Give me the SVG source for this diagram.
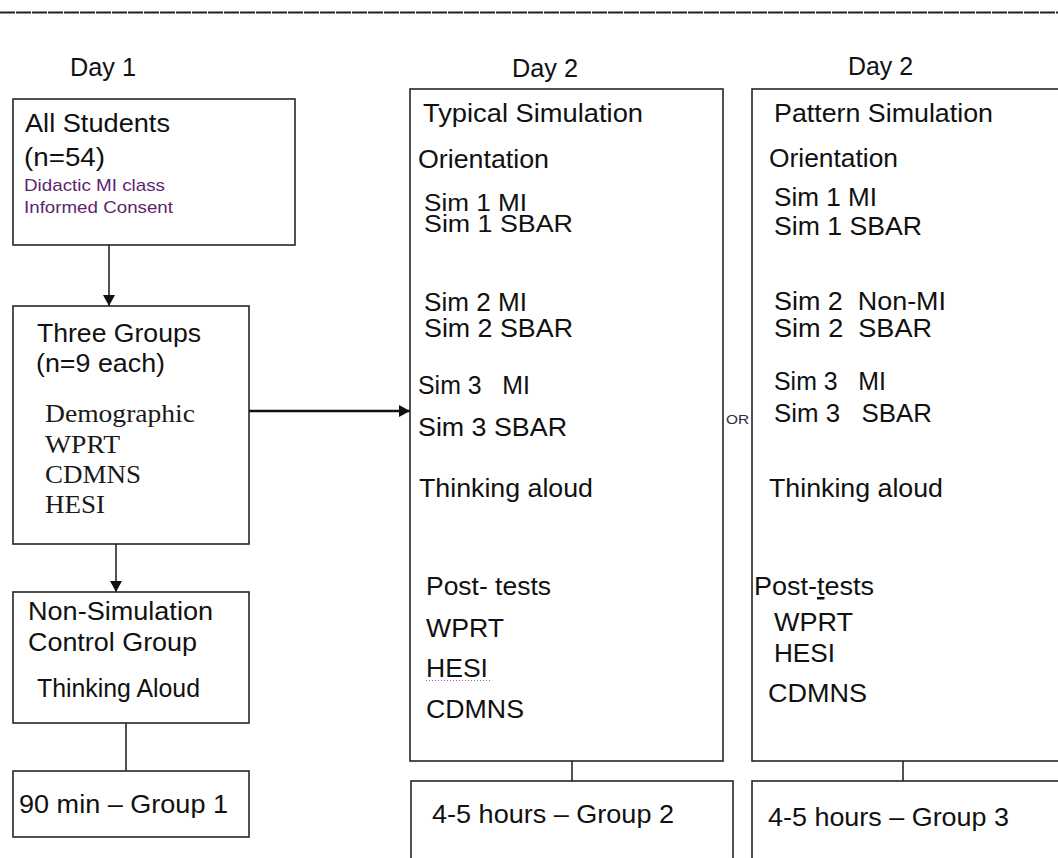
<svg xmlns="http://www.w3.org/2000/svg" width="1058" height="858" viewBox="0 0 1058 858">
  <style>
    .box { fill: #ffffff; stroke: #262626; stroke-width: 1.6; }
    .t { font-family: "Liberation Sans", Arial, sans-serif; font-size: 25px; fill: #111111; }
    .t2 { font-family: "Liberation Sans", Arial, sans-serif; font-size: 23px; fill: #111111; }
    .s { font-family: "Liberation Serif", "Times New Roman", serif; font-size: 25px; fill: #1a1a1a; }
    .p { font-family: "Liberation Sans", Arial, sans-serif; font-size: 17px; fill: #5e2470; }
    .or { font-family: "Liberation Sans", Arial, sans-serif; font-size: 13px; fill: #2b2b3a; }
    .ln { stroke: #262626; stroke-width: 1.6; fill: none; }
    .thick { stroke: #111111; stroke-width: 2.6; fill: none; }
  </style>
  <defs>
    <marker id="ah" markerUnits="userSpaceOnUse" markerWidth="12" markerHeight="12" refX="11" refY="6" orient="auto">
      <path d="M0,0 L11,6 L0,12 z" fill="#111111"/>
    </marker>
  </defs>
  <rect width="1058" height="858" fill="#ffffff"/>

  <!-- top rule -->
  <line x1="0" y1="12.5" x2="1058" y2="12.5" stroke="#222222" stroke-width="2" stroke-dasharray="15 1"/>

  <!-- column headers -->
  <text class="t" x="70" y="76" textLength="66" lengthAdjust="spacingAndGlyphs">Day 1</text>
  <text class="t" x="512" y="77" textLength="66" lengthAdjust="spacingAndGlyphs">Day 2</text>
  <text class="t" x="848" y="75" textLength="65" lengthAdjust="spacingAndGlyphs">Day 2</text>

  <g id="connectors">
    <line class="ln" x1="109" y1="245" x2="109" y2="306" marker-end="url(#ah)"/>
    <line class="thick" x1="249" y1="411" x2="410" y2="411" marker-end="url(#ah)"/>
    <line class="ln" x1="116" y1="538" x2="116" y2="592" marker-end="url(#ah)"/>
    <line class="ln" x1="126" y1="723" x2="126" y2="771"/>
    <line class="ln" x1="572" y1="761" x2="572" y2="781"/>
    <line class="ln" x1="903" y1="761" x2="903" y2="781"/>
  </g>

  <g id="all-students">
    <rect class="box" x="13" y="99" width="282" height="146"/>
    <text class="t" x="25" y="132" textLength="145" lengthAdjust="spacingAndGlyphs">All Students</text>
    <text class="t" x="24" y="166" textLength="81" lengthAdjust="spacingAndGlyphs">(n=54)</text>
    <text class="p" x="24" y="191" textLength="141" lengthAdjust="spacingAndGlyphs">Didactic MI class</text>
    <text class="p" x="24" y="213" textLength="149" lengthAdjust="spacingAndGlyphs">Informed Consent</text>
  </g>

  <g id="three-groups">
    <rect class="box" x="13" y="306" width="236" height="238"/>
    <text class="t" x="37" y="342" textLength="164" lengthAdjust="spacingAndGlyphs">Three Groups</text>
    <text class="t" x="36" y="372" textLength="129" lengthAdjust="spacingAndGlyphs">(n=9 each)</text>
    <text class="s" x="45" y="422" textLength="150" lengthAdjust="spacingAndGlyphs">Demographic</text>
    <text class="s" x="45" y="453" textLength="75" lengthAdjust="spacingAndGlyphs">WPRT</text>
    <text class="s" x="45" y="483" textLength="96" lengthAdjust="spacingAndGlyphs">CDMNS</text>
    <text class="s" x="45" y="513" textLength="60" lengthAdjust="spacingAndGlyphs">HESI</text>
  </g>

  <g id="control-group">
    <rect class="box" x="13" y="592" width="236" height="131"/>
    <text class="t" x="28" y="620" textLength="185" lengthAdjust="spacingAndGlyphs">Non-Simulation</text>
    <text class="t" x="28" y="651" textLength="169" lengthAdjust="spacingAndGlyphs">Control Group</text>
    <text class="t" x="37" y="697" textLength="163" lengthAdjust="spacingAndGlyphs">Thinking Aloud</text>
  </g>

  <g id="group1">
    <rect class="box" x="13" y="771" width="236" height="66"/>
    <text class="t" x="19" y="813" textLength="209" lengthAdjust="spacingAndGlyphs">90 min – Group 1</text>
  </g>

  <g id="typical-simulation">
    <rect class="box" x="410" y="89" width="313" height="672"/>
    <text class="t" x="423" y="122" textLength="220" lengthAdjust="spacingAndGlyphs">Typical Simulation</text>
    <text class="t" x="418" y="168" textLength="131" lengthAdjust="spacingAndGlyphs">Orientation</text>
    <text class="t2" x="424" y="211" textLength="103" lengthAdjust="spacingAndGlyphs">Sim 1 MI</text>
    <text class="t2" x="424" y="232" textLength="149" lengthAdjust="spacingAndGlyphs">Sim 1 SBAR</text>
    <text class="t" x="424" y="311" textLength="103" lengthAdjust="spacingAndGlyphs">Sim 2 MI</text>
    <text class="t" x="424" y="337" textLength="149" lengthAdjust="spacingAndGlyphs">Sim 2 SBAR</text>
    <text class="t" x="418" y="394" textLength="112" lengthAdjust="spacingAndGlyphs" xml:space="preserve">Sim 3   MI</text>
    <text class="t" x="418" y="436" textLength="149" lengthAdjust="spacingAndGlyphs">Sim 3 SBAR</text>
    <text class="t" x="419" y="497" textLength="174" lengthAdjust="spacingAndGlyphs">Thinking aloud</text>
    <text class="t" x="426" y="595" textLength="125" lengthAdjust="spacingAndGlyphs">Post- tests</text>
    <text class="t" x="426" y="637" textLength="78" lengthAdjust="spacingAndGlyphs">WPRT</text>
    <text class="t" x="426" y="677" textLength="62" lengthAdjust="spacingAndGlyphs">HESI</text>
    <line x1="426" y1="680.5" x2="490" y2="680.5" stroke="#cc44cc" stroke-width="1" stroke-dasharray="1 2"/>
    <text class="t" x="426" y="718" textLength="98" lengthAdjust="spacingAndGlyphs">CDMNS</text>
  </g>

  <text class="or" x="726" y="424" textLength="23" lengthAdjust="spacingAndGlyphs">OR</text>

  <g id="pattern-simulation">
    <rect class="box" x="752" y="89" width="312" height="672"/>
    <text class="t" x="774" y="122" textLength="219" lengthAdjust="spacingAndGlyphs">Pattern Simulation</text>
    <text class="t" x="769" y="167" textLength="129" lengthAdjust="spacingAndGlyphs">Orientation</text>
    <text class="t" x="774" y="206" textLength="103" lengthAdjust="spacingAndGlyphs">Sim 1 MI</text>
    <text class="t" x="774" y="235" textLength="148" lengthAdjust="spacingAndGlyphs">Sim 1 SBAR</text>
    <text class="t" x="774" y="310" textLength="172" lengthAdjust="spacingAndGlyphs" xml:space="preserve">Sim 2  Non-MI</text>
    <text class="t" x="774" y="337" textLength="158" lengthAdjust="spacingAndGlyphs" xml:space="preserve">Sim 2  SBAR</text>
    <text class="t" x="774" y="390" textLength="112" lengthAdjust="spacingAndGlyphs" xml:space="preserve">Sim 3   MI</text>
    <text class="t" x="774" y="422" textLength="158" lengthAdjust="spacingAndGlyphs" xml:space="preserve">Sim 3   SBAR</text>
    <text class="t" x="769" y="497" textLength="174" lengthAdjust="spacingAndGlyphs">Thinking aloud</text>
    <text class="t" x="754" y="595" textLength="120" lengthAdjust="spacingAndGlyphs">Post-<tspan style="text-decoration:underline">t</tspan>ests</text>
    <text class="t" x="774" y="631" textLength="79" lengthAdjust="spacingAndGlyphs">WPRT</text>
    <text class="t" x="774" y="662" textLength="61" lengthAdjust="spacingAndGlyphs">HESI</text>
    <text class="t" x="768" y="702" textLength="99" lengthAdjust="spacingAndGlyphs">CDMNS</text>
  </g>

  <g id="group2">
    <rect class="box" x="411" y="781" width="322" height="90"/>
    <text class="t" x="432" y="823" textLength="242" lengthAdjust="spacingAndGlyphs">4-5 hours – Group 2</text>
  </g>

  <g id="group3">
    <rect class="box" x="752" y="781" width="312" height="90"/>
    <text class="t" x="768" y="826" textLength="241" lengthAdjust="spacingAndGlyphs">4-5 hours – Group 3</text>
  </g>
</svg>
